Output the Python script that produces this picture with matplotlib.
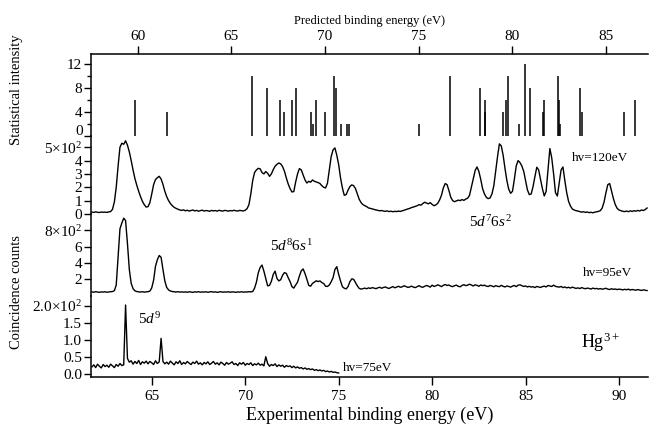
"""Hg3+ coincidence spectra at three photon energies with predicted line strengths."""

import matplotlib

matplotlib.use("Agg")
import matplotlib.pyplot as plt
import numpy as np

plt.rcParams["font.family"] = ["Liberation Serif", "DejaVu Serif"]
plt.rcParams["mathtext.fontset"] = "custom"
plt.rcParams["mathtext.rm"] = "Liberation Serif"
plt.rcParams["mathtext.it"] = "Liberation Serif:italic"

# predicted lines (top scale)
stick_energy = [
    59.86, 61.58, 66.09, 66.89, 67.60, 67.79, 68.25, 68.47, 69.25, 69.34,
    69.52, 69.98, 70.48, 70.59, 70.85, 71.19, 71.28, 75.03, 76.66, 78.28,
    78.52, 78.56, 79.49, 79.66, 79.75, 80.34, 80.69, 80.94, 81.62, 81.71,
    82.44, 82.48, 82.56, 83.60, 83.71, 85.95, 86.55,
]
stick_intensity = [
    6, 4, 10, 8, 6, 4, 6, 8, 4, 2,
    6, 4, 10, 8, 2, 2, 2, 2, 10, 8,
    6, 4, 4, 6, 10, 2, 12, 8, 4, 6,
    10, 6, 2, 8, 4, 4, 6,
]

# measured spectra, sampled every 0.1 eV from 61.8 eV
grid_start = 61.8
grid_step = 0.1
counts_120 = [
    14, 12, 16, 13, 11, 15, 13, 14, 12, 16,  # 61.8
    18, 35, 90, 200, 360, 500, 530, 522, 548, 515,  # 62.8
    465, 400, 330, 265, 215, 170, 130, 95, 70, 52,  # 63.8
    55, 85, 150, 220, 258, 272, 282, 262, 222, 170,  # 64.8
    130, 100, 78, 62, 50, 42, 36, 30, 27, 31,  # 65.8
    24, 28, 22, 26, 30, 23, 27, 21, 25, 29,  # 66.8
    22, 26, 24, 20, 27, 23, 26, 21, 28, 24,  # 67.8
    22, 27, 25, 21, 26, 23, 28, 24, 22, 27,  # 68.8
    25, 23, 28, 40, 70, 150, 250, 310, 330, 342,  # 69.8
    338, 310, 300, 318, 305, 282, 300, 332, 358, 372,  # 70.8
    382, 375, 355, 320, 270, 225, 190, 165, 168, 240,  # 71.8
    300, 340, 330, 292, 255, 232, 245, 238, 255, 245,  # 72.8
    240, 235, 228, 212, 200, 195, 230, 330, 430, 480,  # 73.8
    495, 440, 370, 270, 195, 140, 145, 178, 205, 218,  # 74.8
    212, 190, 150, 110, 85, 70, 62, 55, 45, 42,  # 75.8
    38, 34, 30, 27, 24, 26, 22, 20, 23, 18,  # 76.8
    21, 17, 20, 18, 22, 19, 24, 28, 33, 38,  # 77.8
    42, 48, 52, 57, 62, 70, 66, 78, 88, 82,  # 78.8
    76, 85, 72, 62, 68, 80, 105, 140, 195, 228,  # 79.8
    220, 175, 125, 100, 92, 98, 104, 100, 108, 102,  # 80.8
    112, 118, 140, 200, 262, 325, 352, 320, 260, 190,  # 81.8
    150, 125, 115, 120, 150, 210, 320, 430, 525, 510,  # 82.8
    440, 340, 250, 185, 155, 170, 260, 360, 400, 385,  # 83.8
    360, 320, 250, 180, 145, 150, 205, 280, 350, 330,  # 84.8
    260, 190, 135, 170, 330, 490, 420, 300, 160, 135,  # 85.8
    230, 330, 352, 250, 160, 95, 60, 38, 30, 25,  # 86.8
    22, 18, 14, 17, 12, 15, 10, 13, 9, 14,  # 87.8
    16, 20, 25, 45, 90, 160, 220, 228, 170, 115,  # 88.8
    70, 42, 30, 25, 20, 18, 22, 17, 24, 19,  # 89.8
    25, 21, 27, 22, 30, 26, 33, 45,  # 90.8
]
counts_95 = [
    45, 42, 48, 44, 40, 46, 43, 47, 41, 45,  # 61.8
    48, 50, 60, 130, 480, 820, 890, 950, 920, 640,  # 62.8
    320, 150, 85, 58, 50, 46, 44, 48, 42, 46,  # 63.8
    48, 55, 95, 190, 360, 440, 492, 470, 320, 180,  # 64.8
    100, 70, 56, 50, 47, 44, 48, 43, 46, 42,  # 65.8
    45, 41, 47, 44, 40, 46, 43, 48, 42, 45,  # 66.8
    43, 47, 41, 45, 49, 42, 46, 40, 44, 48,  # 67.8
    42, 45, 43, 47, 41, 46, 44, 40, 45, 43,  # 68.8
    47, 42, 45, 44, 48, 46, 50, 90, 165, 280,  # 69.8
    345, 375, 300, 210, 120, 125, 175, 260, 300, 210,  # 70.8
    180, 195, 250, 282, 272, 220, 172, 110, 92, 130,  # 71.8
    165, 240, 305, 327, 270, 200, 125, 115, 150, 165,  # 72.8
    182, 172, 180, 160, 148, 115, 112, 130, 170, 220,  # 73.8
    320, 355, 260, 180, 110, 90, 82, 110, 170, 205,  # 74.8
    200, 160, 120, 88, 80, 85, 92, 84, 95, 88,  # 75.8
    98, 92, 85, 96, 102, 90, 100, 106, 94, 88,  # 76.8
    100, 110, 96, 104, 115, 102, 108, 120, 112, 100,  # 77.8
    106, 116, 104, 98, 110, 122, 108, 102, 114, 124,  # 78.8
    116, 104, 128, 112, 120, 132, 122, 110, 126, 136,  # 79.8
    124, 130, 116, 110, 122, 128, 114, 108, 124, 134,  # 80.8
    122, 128, 140, 130, 118, 132, 126, 114, 130, 122,  # 81.8
    128, 116, 112, 124, 118, 108, 122, 114, 110, 126,  # 82.8
    114, 106, 118, 112, 104, 116, 124, 110, 128, 132,  # 83.8
    122, 112, 118, 106, 114, 104, 110, 98, 112, 106,  # 84.8
    100, 110, 116, 106, 124, 118, 112, 128, 114, 108,  # 85.8
    104, 112, 98, 106, 95, 102, 92, 104, 96, 88,  # 86.8
    95, 86, 98, 90, 84, 92, 88, 80, 92, 84,  # 87.8
    88, 80, 86, 78, 84, 90, 79, 75, 84, 77,  # 88.8
    81, 74, 79, 76, 70, 77, 72, 79, 68, 75,  # 89.8
    70, 66, 74, 68, 63, 70, 66, 62,  # 90.8
]
counts_75 = [
    20, 26, 18, 28, 22, 17, 27, 21, 25, 19,  # 61.8
    28, 23, 18, 27, 22, 30, 24, 26, 202, 45,  # 62.8
    34, 38, 28, 36, 30, 39, 27, 35, 31, 37,  # 63.8
    29, 36, 32, 27, 38, 30, 35, 104, 36, 29,  # 64.8
    34, 28, 37, 31, 26, 35, 30, 38, 27, 33,  # 65.8
    29, 36, 31, 27, 34, 30, 37, 28, 32, 26,  # 66.8
    33, 29, 35, 27, 31, 36, 28, 32, 26, 34,  # 67.8
    30, 25, 33, 28, 31, 35, 27, 30, 24, 32,  # 68.8
    28, 33, 25, 30, 27, 32, 24, 29, 26, 31,  # 69.8
    25, 28, 23, 50, 30, 22, 27, 24, 29, 21,  # 70.8
    26, 22, 25, 19, 24, 21, 23, 18, 22, 17,  # 71.8
    20, 16, 18, 14, 17, 13, 15, 12, 14, 10,  # 72.8
    12, 9, 11, 8, 10, 6, 8, 5, 7, 4,  # 73.8
    5, 3, 2,  # 74.8
]

top_ticks = [60, 65, 70, 75, 80, 85]
bottom_ticks = [65, 70, 75, 80, 85, 90]
stick_yticks = [0, 4, 8, 12]
stick_yticklabels = ["", "4", "8", "12"]
ticks_120 = [0, 100, 200, 300, 400, 500]
labels_120 = ["0", "1", "2", "3", "4", "5×10$^{2}$"]
ticks_95 = [200, 400, 600, 800]
labels_95 = ["2", "4", "6", "8×10$^{2}$"]
ticks_75 = [0, 50, 100, 150, 200]
labels_75 = ["0.0", "0.5", "1.0", "1.5", "2.0×10$^{2}$"]

W, H = 649, 425
LEFT, RIGHT = 91, 648


def energy_grid(values):
    return grid_start + grid_step * np.arange(len(values))


def panel(fig, top, bottom):
    ax = fig.add_axes([LEFT / W, 1 - bottom / H, (RIGHT - LEFT) / W, (bottom - top) / H])
    ax.patch.set_visible(False)
    for side in ("top", "right", "bottom"):
        ax.spines[side].set_visible(False)
    ax.spines["left"].set_linewidth(1.1)
    ax.tick_params(axis="y", direction="out", length=5, width=1, labelsize=11, pad=1.5)
    ax.tick_params(axis="x", bottom=False, labelbottom=False)
    return ax


fig = plt.figure(figsize=(W / 100, H / 100), dpi=100)

ax_s = panel(fig, 54, 136)
ax_s.spines["top"].set_visible(True)
ax_s.spines["top"].set_linewidth(1.1)
ax_s.vlines(stick_energy, 0, stick_intensity, color="black", lw=1.1)
ax_s.set_xlim(57.51, 87.24)
ax_s.set_ylim(0, 13.6)
ax_s.set_yticks(stick_yticks)
ax_s.set_yticklabels(stick_yticklabels)
ax_s.set_yticks([2, 6, 10], minor=True)
ax_s.tick_params(axis="y", which="minor", direction="out", length=3, width=1)
# the zero label sits a little above its tick, clear of the 5x10^2 label below
ax_s.annotate("0", xy=(0, 0), xycoords="axes fraction", xytext=(-5.5, 3.5),
              textcoords="offset points", ha="right", va="center", fontsize=11)
ax_s.xaxis.set_ticks_position("top")
ax_s.xaxis.set_label_position("top")
ax_s.set_xticks(top_ticks)
ax_s.tick_params(axis="x", top=True, labeltop=True, direction="out", length=6, width=1,
                 labelsize=11, pad=2)
ax_s.set_xlabel("Predicted binding energy (eV)", fontsize=9, labelpad=4)

ax1 = panel(fig, 136, 214)
ax1.plot(energy_grid(counts_120), counts_120, color="black", lw=1.0, clip_on=False)
ax1.set_ylim(0, 584)
ax1.set_yticks(ticks_120)
ax1.set_yticklabels(labels_120)

ax2 = panel(fig, 214, 295.6)
ax2.plot(energy_grid(counts_95), counts_95, color="black", lw=1.0, clip_on=False)
ax2.set_ylim(0, 1001)
ax2.set_yticks(ticks_95)
ax2.set_yticklabels(labels_95)

ax3 = panel(fig, 295.6, 377)
ax3.spines["bottom"].set_visible(True)
ax3.spines["bottom"].set_linewidth(1.1)
ax3.plot(energy_grid(counts_75), counts_75, color="black", lw=1.0, clip_on=False)
ax3.set_ylim(-9.7, 229.7)
ax3.set_yticks(ticks_75)
ax3.set_yticklabels(labels_75)
ax3.set_xticks(bottom_ticks)
ax3.tick_params(axis="x", bottom=True, labelbottom=True, direction="out", length=6, width=1,
                labelsize=11, pad=3)
ax3.set_xlabel("Experimental binding energy (eV)", fontsize=13, labelpad=3)

for ax in (ax1, ax2, ax3):
    ax.set_xlim(61.75, 91.55)

ax1.text(87.48, 419, "hv=120eV", fontsize=9.5, va="center")
ax2.text(81.97, 900, "5$d^{7}$6$s^{2}$", fontsize=11, va="center")
ax2.text(71.33, 612, "5$d^{8}$6$s^{1}$", fontsize=11, va="center")
ax2.text(88.08, 277, "hv=95eV", fontsize=9.5, va="center")
ax3.text(64.28, 161, "5$d^{9}$", fontsize=11, va="center")
ax3.text(87.99, 93, "Hg$^{3+}$", fontsize=13, va="center")
ax3.text(75.21, 16, "hv=75eV", fontsize=9.5, va="center")

fig.text(17 / W, 1 - 90 / H, "Statistical intensity", rotation=90, ha="center", va="center",
         fontsize=10.5)
fig.text(17 / W, 1 - 292 / H, "Coincidence counts", rotation=90, ha="center", va="center",
         fontsize=10.5)

fig.savefig("out.png", dpi=100)
plt.close(fig)
